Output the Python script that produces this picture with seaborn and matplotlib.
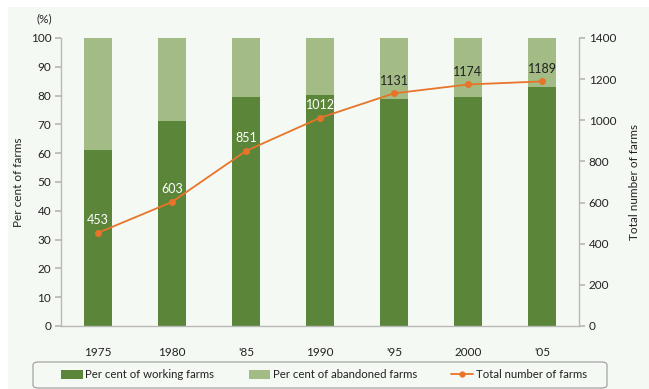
import matplotlib
matplotlib.use("Agg")
import matplotlib.pyplot as plt
from matplotlib.patches import Rectangle, FancyBboxPatch
from matplotlib.lines import Line2D
import seaborn as sns
import pandas as pd

years = ["1975", "1980", "'85", "1990", "'95", "2000", "'05"]
working_pct = [61.1, 71.2, 79.4, 80.1, 78.7, 79.6, 83.0]
total_pct = [100, 100, 100, 100, 100, 100, 100]
total_farms = [453, 603, 851, 1012, 1131, 1174, 1189]
label_colors = ["white", "white", "white", "white", "#222222", "#222222", "#222222"]

dark_green = "#5b863a"
light_green = "#a3bb84"
orange = "#e8742a"
bg = "#f5f9f3"
spine_grey = "#b8b8b8"
text_col = "#222222"

sns.set_theme(style="white")
plt.rcParams["font.family"] = ["Lato", "DejaVu Sans"]
plt.rcParams["font.size"] = 8.5

df = pd.DataFrame({"year": years, "working": working_pct,
                   "total": total_pct, "farms": total_farms})

W, H = 649, 389
fig = plt.figure(figsize=(W / 100, H / 100), dpi=100)
fig.patch.set_facecolor("white")
fig.patches.append(Rectangle((8 / W, 0), 1, 1 - 7 / H, transform=fig.transFigure,
                             facecolor=bg, edgecolor="none", zorder=-10))

ax = fig.add_axes([61 / W, 1 - 326 / H, (579 - 61) / W, (326 - 38) / H])
ax.set_facecolor(bg)

sns.barplot(data=df, x="year", y="total", color=light_green, width=0.39,
            saturation=1, linewidth=0, ax=ax, order=years)
sns.barplot(data=df, x="year", y="working", color=dark_green, width=0.39,
            saturation=1, linewidth=0, ax=ax, order=years)
ax.set_xlim(-0.5, 6.5)
ax.set_ylim(0, 100)
ax.set_yticks(range(0, 101, 10))
ax.set_xlabel("")
ax.set_ylabel("Per cent of farms", color=text_col, fontsize=8.5, labelpad=5)
ax.tick_params(axis="y", left=True, length=4, color=spine_grey, labelsize=8.5,
               labelcolor=text_col, pad=3)
ax.tick_params(axis="x", bottom=False, labelsize=8.5, labelcolor=text_col, pad=9)
for s in ["top", "right"]:
    ax.spines[s].set_visible(False)
for s in ["left", "bottom"]:
    ax.spines[s].set_color(spine_grey)
    ax.spines[s].set_linewidth(1)
ax.text(-0.017, 1.065, "(%)", transform=ax.transAxes, ha="right", va="center",
        fontsize=8.5, color=text_col)

ax2 = ax.twinx()
sns.pointplot(data=df, x="year", y="farms", color=orange, ax=ax2, order=years,
              markers="o", markersize=4, linewidth=1.3)
ax2.set_xlim(-0.5, 6.5)
ax2.set_ylim(0, 1400)
ax2.set_yticks(range(0, 1401, 200))
ax2.set_ylabel("Total number of farms", color=text_col, fontsize=8.5, labelpad=9)
ax2.tick_params(axis="y", right=True, length=4, color=spine_grey, labelsize=8.5,
                labelcolor=text_col, pad=3)
for s in ["top", "left", "bottom"]:
    ax2.spines[s].set_visible(False)
ax2.spines["right"].set_color(spine_grey)
ax2.spines["right"].set_linewidth(1)

for i, (v, c) in enumerate(zip(total_farms, label_colors)):
    ax2.annotate(str(v), (i, v), xytext=(0, 9), textcoords="offset points",
                 ha="center", va="center", fontsize=9, color=c)

# rounded legend box
fig.patches.append(FancyBboxPatch((33 / W, 1 / H), (607 - 33) / W, 26 / H,
                                  boxstyle="round,pad=0,rounding_size=0.008",
                                  transform=fig.transFigure, facecolor=bg,
                                  edgecolor="#9a9a9a", linewidth=0.8, zorder=-5))

handles = [
    Rectangle((0, 0), 1, 1, facecolor=dark_green, edgecolor="none"),
    Rectangle((0, 0), 1, 1, facecolor=light_green, edgecolor="none"),
    Line2D([0], [0], color=orange, marker="o", markersize=3.5, linewidth=1.3),
]
labels = ["Per cent of working farms", "Per cent of abandoned farms",
          "Total number of farms"]
leg = fig.legend(handles, labels, ncol=3, loc="center",
                 bbox_to_anchor=(324 / W, 1 - 375 / H),
                 frameon=False, fontsize=8.2,
                 handlelength=1.9, handleheight=0.75, handletextpad=0.25,
                 columnspacing=3.0, borderpad=0, labelcolor=text_col)

fig.savefig("out.png", dpi=100, facecolor=fig.get_facecolor())
